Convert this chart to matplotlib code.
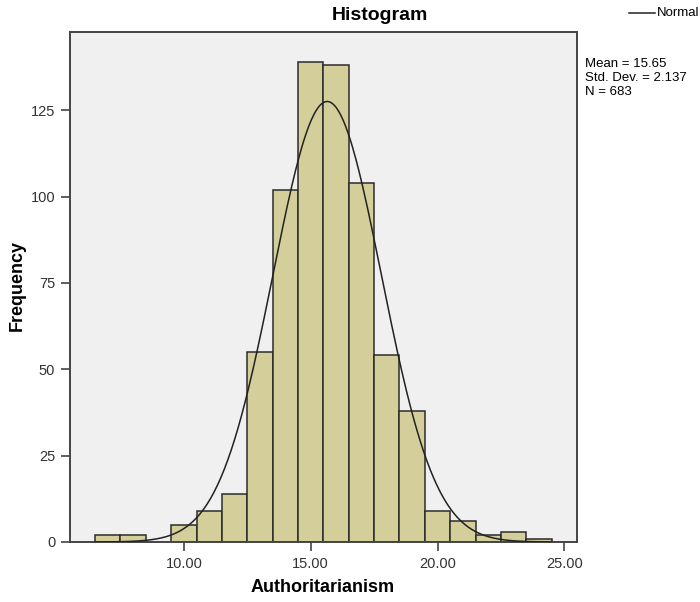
import numpy as np
import matplotlib
matplotlib.use("Agg")
import matplotlib.pyplot as plt

plt.rcParams['font.family'] = ['Liberation Sans', 'DejaVu Sans']

# Histogram bins (unit width, centred on integer scores) and their counts
bin_centers = [7, 8, 9, 10, 11, 12, 13, 14, 15, 16, 17, 18, 19, 20, 21, 22, 23, 24]
counts = [2, 2, 0, 5, 9, 14, 55, 102, 139, 138, 104, 54, 38, 9, 6, 2, 3, 1]

# Summary statistics of the variable
mean = 15.65
std_dev = 2.137
n_obs = 683

x_ticks = [10, 15, 20, 25]
x_tick_labels = ["10.00", "15.00", "20.00", "25.00"]
y_ticks = [0, 25, 50, 75, 100, 125]

fig = plt.figure(figsize=(7.0, 6.02), dpi=100)
ax = fig.add_axes([0.0996, 0.0997, 0.7247, 0.8476])
ax.set_facecolor('#f0f0f0')

bar_fill = '#d3ce9a'
bar_edge = '#2b2b2b'
for c, h in zip(bin_centers, counts):
    if h > 0:
        ax.bar(c, h, width=1.0, color=bar_fill, edgecolor=bar_edge, linewidth=1.1, zorder=2)

# Fitted normal curve scaled to counts per unit bin
xs = np.linspace(6.5, 24.5, 400)
pdf = np.exp(-0.5 * ((xs - mean) / std_dev) ** 2) / (std_dev * np.sqrt(2 * np.pi))
ax.plot(xs, n_obs * 1.0 * pdf, color='#222222', linewidth=1.1, zorder=3)

ax.set_xlim(5.5, 25.5)
ax.set_ylim(0, 147.7)
ax.set_xticks(x_ticks)
ax.set_xticklabels(x_tick_labels)
ax.set_yticks(y_ticks)

for s in ax.spines.values():
    s.set_color('#444444')
    s.set_linewidth(1.4)
ax.tick_params(axis='both', direction='out', length=6.5, width=1.2, color='#444444',
               labelsize=10.5, labelcolor='#333333', pad=4)

# Axis titles
fig.text(323 / 700, 1 - 588 / 602, 'Authoritarianism', fontsize=13, fontweight='bold',
         ha='center', va='center')
fig.text(17 / 700, 1 - 285 / 602, 'Frequency', fontsize=13, fontweight='bold',
         ha='center', va='center', rotation=90)

fig.text(380 / 700, 1 - 16 / 602, 'Histogram', fontsize=14, fontweight='bold',
         ha='center', va='center')

# Legend entry for the normal curve
fig.add_artist(plt.Line2D([629 / 700, 655 / 700], [1 - 13 / 602, 1 - 13 / 602],
                          color='#222222', linewidth=1.1, transform=fig.transFigure))
fig.text(657 / 700, 1 - 13 / 602, 'Normal', fontsize=9.5, ha='left', va='center')

stats_text = f"Mean = {mean:.2f}\nStd. Dev. = {std_dev:.3f}\nN = {n_obs}"
fig.text(585 / 700, 1 - 58 / 602, stats_text, fontsize=9.5, ha='left', va='top',
         linespacing=1.2)

fig.savefig('out.png', dpi=100)
